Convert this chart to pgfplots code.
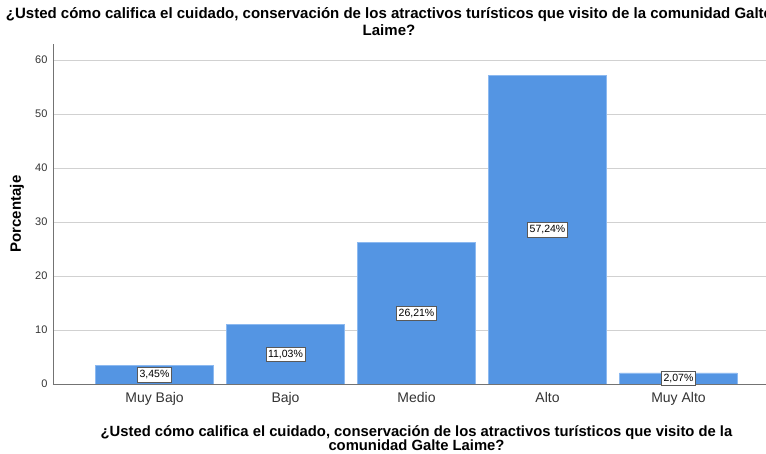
\documentclass[border=0pt]{standalone}
\usepackage{pgfplots}
\pgfplotsset{compat=1.18}
\usepackage{fontspec}
\setmainfont{Liberation Sans}
\definecolor{barblue}{RGB}{84,149,227}
\definecolor{baredge}{RGB}{140,185,240}
\begin{document}
\begin{tikzpicture}
\useasboundingbox (0pt,0pt) rectangle (766pt,454pt);
\clip (0pt,0pt) rectangle (766pt,454pt);
\node[anchor=north, align=center, font=\bfseries\fontsize{15}{17}\selectfont] at (389pt,450pt)
  {¿Usted cómo califica el cuidado, conservación de los atractivos turísticos que visito de la comunidad Galte\\Laime?};
\begin{axis}[
  at={(53pt,70pt)}, anchor=south west, scale only axis,
  width=727pt, height=340pt,
  xmin=-0.775, xmax=4.775, ymin=0, ymax=63,
  axis x line*=bottom, axis y line*=left,
  axis line style={-, draw=black!55, line width=0.8pt},
  ytick={0,10,...,60}, ymajorgrids,
  grid style={black!18, line width=0.8pt},
  major tick length=0pt,
  xtick={0,...,4}, xticklabels={Muy Bajo,Bajo,Medio,Alto,Muy Alto},
  x tick label style={font=\fontsize{14}{16}\selectfont, text=black!80, yshift=-5pt},
  y tick label style={font=\fontsize{11}{12}\selectfont, text=black!80, xshift=-2pt},
  /pgf/number format/assume math mode=true,
  xlabel={¿Usted cómo califica el cuidado, conservación de los atractivos turísticos que visito de la\\comunidad Galte Laime?},
  xlabel style={at={(axis description cs:0.5,0)}, anchor=north, yshift=-38pt, align=center,
    font=\bfseries\fontsize{14.8}{14}\selectfont},
  ylabel={Porcentaje},
  ylabel style={at={(axis description cs:0,0.5)}, anchor=center, yshift=36pt,
    font=\bfseries\fontsize{15}{15}\selectfont},
  visualization depends on={y \as \rawy},
]
\addplot[ybar, bar width=0.897, fill=barblue, draw=baredge, line width=0.6pt,
  nodes near coords={\pgfmathprintnumber[use comma,fixed,fixed zerofill,precision=2]{\pgfplotspointmeta}\%},
  every node near coord/.append style={anchor=center, shift={(axis direction cs:0,-\rawy/2)},
    fill=white, draw=black!65, line width=0.6pt, inner xsep=2pt, inner ysep=3pt, text=black,
    font=\fontsize{10.5}{12}\selectfont, /pgf/number format/assume math mode=true}]
  coordinates {(0,3.45) (1,11.03) (2,26.21) (3,57.24) (4,2.07)};
\end{axis}
\end{tikzpicture}
\end{document}
